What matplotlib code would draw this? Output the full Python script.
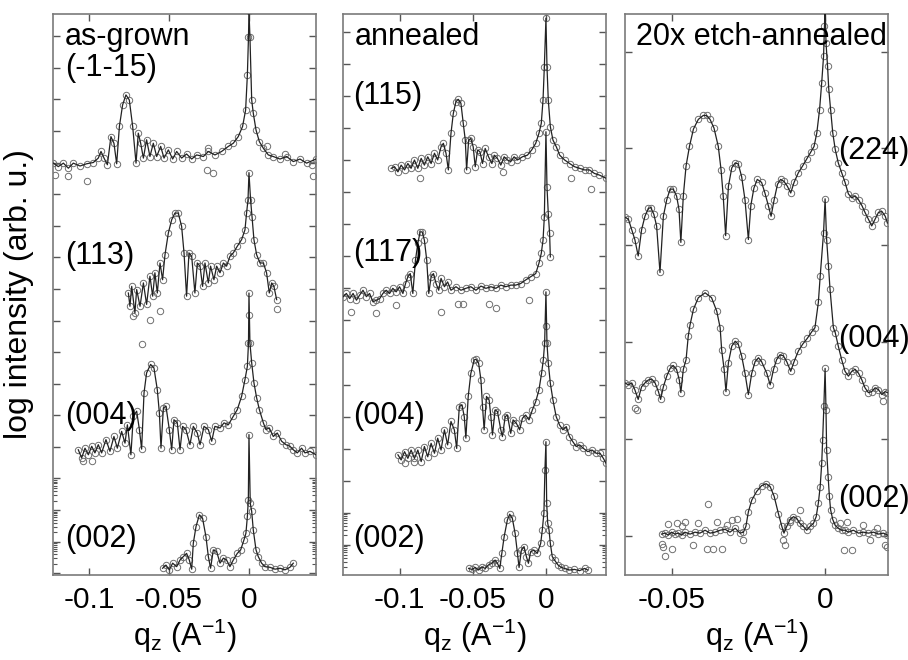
import matplotlib
matplotlib.use("Agg")
import matplotlib.pyplot as plt
import numpy as np

plt.rcParams['font.family'] = ['Liberation Sans', 'DejaVu Sans']
plt.rcParams['mathtext.fontset'] = 'custom'
plt.rcParams['mathtext.rm'] = 'Liberation Sans'
plt.rcParams['mathtext.it'] = 'Liberation Sans:italic'
plt.rcParams['axes.unicode_minus'] = False

# ---------------- data: panel 1 (as-grown) ----------------
a1_q = [-0.1223,-0.1192,-0.1160,-0.1129,-0.1098,-0.1056,-0.1015,-0.0973,-0.0942,-0.0925,-0.0906,-0.0885,-0.0863,-0.0844,-0.0827,-0.0810,-0.0790,-0.0769,-0.0748,-0.0727,-0.0706,-0.0692,-0.0677,-0.0660,-0.0640,-0.0619,-0.0598,-0.0577,-0.0552,-0.0531,-0.0504,-0.0477,-0.0452,-0.0421,-0.0390,-0.0358,-0.0327,-0.0285,-0.0254,-0.0213,-0.0171,-0.0129,-0.0098,-0.0067,-0.0040,-0.0021,-0.0010,-0.0003,0.0,0.0006,0.0017,0.0027,0.0044,0.0065,0.0090,0.0121,0.0152,0.0194,0.0235,0.0277,0.0319,0.0360,0.0419]
a1_y = [12.98,12.87,12.98,12.82,12.98,12.89,12.96,13.00,13.14,13.35,13.14,12.93,13.82,13.61,12.96,14.14,14.82,15.14,14.98,14.14,12.98,13.93,13.61,13.14,13.72,13.19,13.61,13.19,13.51,13.14,13.40,13.11,13.35,13.14,13.27,13.11,13.24,13.19,13.35,13.24,13.35,13.51,13.61,13.82,14.14,14.66,15.77,16.98,17.80,16.98,14.98,14.56,14.03,13.66,13.45,13.24,13.19,13.11,13.19,13.03,13.11,12.98,13.11]

a2_q = [-0.0754,-0.0744,-0.0733,-0.0713,-0.0702,-0.0681,-0.0660,-0.0640,-0.0619,-0.0602,-0.0588,-0.0573,-0.0556,-0.0540,-0.0525,-0.0504,-0.0483,-0.0463,-0.0442,-0.0421,-0.0406,-0.0390,-0.0375,-0.0358,-0.0338,-0.0323,-0.0306,-0.0290,-0.0275,-0.0254,-0.0240,-0.0219,-0.0202,-0.0181,-0.0160,-0.0140,-0.0119,-0.0098,-0.0073,-0.0046,-0.0025,-0.0015,-0.0006,0.0,0.0010,0.0019,0.0031,0.0048,0.0069,0.0090,0.0110,0.0127,0.0142,0.0156,0.0173]
a2_y = [8.87,8.45,9.08,8.24,8.98,8.45,9.19,8.51,9.40,8.77,9.51,8.87,9.82,9.29,10.08,10.77,11.19,11.40,11.40,10.98,10.14,8.77,10.14,10.03,8.87,9.82,9.72,9.08,9.82,9.19,9.72,9.29,9.72,9.51,9.82,9.72,10.03,10.14,10.35,10.56,10.87,11.40,11.82,12.68,11.82,11.29,10.56,10.08,9.82,9.82,9.51,8.87,9.19,9.08,8.66]

a3_q = [-0.1067,-0.1046,-0.1025,-0.1004,-0.0983,-0.0963,-0.0942,-0.0921,-0.0894,-0.0869,-0.0844,-0.0823,-0.0796,-0.0775,-0.0760,-0.0738,-0.0723,-0.0702,-0.0685,-0.0671,-0.0656,-0.0640,-0.0615,-0.0594,-0.0573,-0.0560,-0.0550,-0.0535,-0.0519,-0.0498,-0.0483,-0.0469,-0.0448,-0.0431,-0.0415,-0.0394,-0.0369,-0.0348,-0.0323,-0.0306,-0.0281,-0.0254,-0.0233,-0.0213,-0.0181,-0.0156,-0.0129,-0.0098,-0.0073,-0.0046,-0.0025,-0.0010,-0.0003,0.0,0.0006,0.0017,0.0031,0.0048,0.0065,0.0090,0.0106,0.0127,0.0152,0.0177,0.0204,0.0231,0.0256,0.0277,0.0302,0.0329,0.0350,0.0381,0.0419]
a3_y = [3.91,3.65,3.96,3.75,4.02,3.81,4.07,3.81,4.23,3.86,4.33,3.96,4.49,4.12,4.70,3.75,4.97,5.13,4.55,3.93,5.71,6.34,6.61,6.50,5.81,5.07,3.96,5.23,5.29,4.55,3.91,4.86,4.76,3.91,4.65,4.55,4.07,4.65,4.44,4.07,4.65,4.55,4.18,4.65,4.60,4.76,4.70,4.97,5.18,5.60,6.13,6.55,7.29,8.87,7.29,6.66,6.03,5.55,5.18,4.76,4.55,4.60,4.33,4.44,4.18,4.07,4.02,3.91,3.81,3.96,3.81,3.86,3.75]

a4_q = [-0.0540,-0.0519,-0.0498,-0.0477,-0.0452,-0.0431,-0.0410,-0.0390,-0.0373,-0.0358,-0.0348,-0.0331,-0.0310,-0.0290,-0.0269,-0.0254,-0.0240,-0.0223,-0.0202,-0.0181,-0.0160,-0.0140,-0.0119,-0.0098,-0.0073,-0.0052,-0.0031,-0.0019,-0.0010,-0.0004,0.0,0.0008,0.0017,0.0027,0.0044,0.0058,0.0079,0.0100,0.0131,0.0163,0.0194,0.0225,0.0256,0.0277]
a4_y = [0.16,0.26,0.11,0.32,0.21,0.42,0.53,0.63,0.42,0.13,0.95,1.48,1.85,1.74,1.16,0.53,0.16,0.74,0.69,0.32,0.48,0.42,0.21,0.42,0.63,0.74,1.06,1.27,1.80,2.33,4.39,2.22,1.96,1.37,0.74,0.53,0.32,0.21,0.19,0.13,0.16,0.11,0.19,0.32]

p1_extra_q = [-0.1215,-0.1129,-0.1010,-0.0265,-0.0223,-0.0254,0.0110,0.0225,0.0392,0.0402,-0.0723,-0.0617,-0.0556,0.0175,-0.0671,-0.1035,-0.0983,0.0003]
p1_extra_y = [12.61,12.56,12.43,12.75,12.68,13.45,13.51,13.27,12.93,12.56,8.14,8.01,8.29,8.35,7.27,3.54,3.54,8.19]

# ---------------- data: panel 2 (annealed) ----------------
b1_q = [-0.1059,-0.1036,-0.1013,-0.0991,-0.0968,-0.0945,-0.0923,-0.0900,-0.0877,-0.0854,-0.0832,-0.0809,-0.0786,-0.0763,-0.0741,-0.0718,-0.0702,-0.0684,-0.0668,-0.0650,-0.0634,-0.0616,-0.0600,-0.0582,-0.0566,-0.0552,-0.0543,-0.0529,-0.0514,-0.0498,-0.0484,-0.0468,-0.0452,-0.0434,-0.0416,-0.0393,-0.0370,-0.0354,-0.0332,-0.0309,-0.0286,-0.0264,-0.0241,-0.0218,-0.0195,-0.0161,-0.0127,-0.0098,-0.0070,-0.0048,-0.0032,-0.0020,-0.0011,0.0,0.0007,0.0016,0.0030,0.0048,0.0071,0.0094,0.0128,0.0162,0.0196,0.0230,0.0264,0.0298,0.0332,0.0366,0.0412]
b1_y = [11.74,11.79,11.63,11.84,11.69,11.89,11.74,12.00,11.74,12.05,11.84,12.10,11.89,12.21,12.00,12.41,12.52,12.21,11.69,12.83,13.45,13.82,13.89,13.77,13.14,12.62,11.69,12.62,12.67,12.41,11.79,12.31,12.26,11.89,12.36,12.10,11.89,12.15,12.05,11.84,12.10,12.00,11.95,12.10,12.00,12.10,12.15,12.31,12.52,12.83,13.14,13.87,14.91,16.42,14.91,13.87,13.04,12.62,12.41,12.15,12.00,11.89,11.79,11.74,11.69,11.69,11.58,11.53,11.43]

b2_q = [-0.1388,-0.1366,-0.1343,-0.1320,-0.1297,-0.1275,-0.1252,-0.1229,-0.1207,-0.1184,-0.1161,-0.1138,-0.1116,-0.1093,-0.1070,-0.1048,-0.1025,-0.1002,-0.0979,-0.0961,-0.0945,-0.0929,-0.0911,-0.0893,-0.0877,-0.0861,-0.0847,-0.0832,-0.0816,-0.0802,-0.0786,-0.0770,-0.0752,-0.0734,-0.0718,-0.0695,-0.0673,-0.0650,-0.0616,-0.0582,-0.0548,-0.0514,-0.0479,-0.0445,-0.0411,-0.0377,-0.0343,-0.0309,-0.0275,-0.0241,-0.0207,-0.0173,-0.0139,-0.0105,-0.0070,-0.0048,-0.0032,-0.0020,-0.0011,0.0,0.0007,0.0016,0.0025,0.0030]
b2_y = [7.74,7.84,7.68,7.84,7.63,7.79,7.94,7.74,7.84,7.58,7.63,7.68,7.84,7.94,7.84,8.00,7.89,8.05,7.84,8.15,8.36,8.46,7.84,8.88,9.40,9.76,9.76,9.50,8.88,7.84,8.36,8.46,8.15,7.94,8.31,8.05,8.20,7.94,8.05,7.94,8.00,8.05,7.94,8.07,8.00,8.05,8.00,8.10,8.05,8.10,8.10,8.15,8.26,8.36,8.46,8.78,9.09,9.50,10.23,12.88,11.17,10.33,9.71,8.98]

b3_q = [-0.1013,-0.0991,-0.0968,-0.0945,-0.0923,-0.0900,-0.0877,-0.0854,-0.0832,-0.0809,-0.0786,-0.0763,-0.0741,-0.0718,-0.0695,-0.0673,-0.0650,-0.0627,-0.0611,-0.0593,-0.0575,-0.0559,-0.0548,-0.0532,-0.0514,-0.0491,-0.0479,-0.0461,-0.0445,-0.0434,-0.0423,-0.0407,-0.0389,-0.0377,-0.0366,-0.0348,-0.0332,-0.0309,-0.0298,-0.0279,-0.0264,-0.0241,-0.0225,-0.0202,-0.0180,-0.0161,-0.0139,-0.0116,-0.0093,-0.0070,-0.0048,-0.0030,-0.0018,-0.0009,0.0,0.0007,0.0016,0.0030,0.0048,0.0070,0.0093,0.0116,0.0139,0.0161,0.0184,0.0207,0.0230,0.0257,0.0286,0.0316,0.0343,0.0370,0.0393,0.0411]
b3_y = [2.81,2.65,2.91,2.70,2.96,2.70,2.96,2.60,3.07,2.75,3.17,2.86,3.33,2.96,3.59,3.12,3.85,3.59,3.01,4.31,4.37,4.00,3.33,4.63,5.35,5.77,5.79,5.67,5.15,4.31,3.59,4.63,4.52,4.00,3.43,4.21,4.16,3.59,3.38,4.00,4.05,3.48,3.90,3.79,3.59,3.95,4.05,3.90,4.21,4.47,4.83,5.35,5.77,6.29,7.89,6.29,5.67,5.04,4.52,4.00,3.74,3.59,3.69,3.38,3.22,3.07,3.12,3.01,2.91,2.96,2.86,2.86,2.70,2.55]

b4_q = [-0.0529,-0.0507,-0.0484,-0.0461,-0.0439,-0.0416,-0.0393,-0.0370,-0.0348,-0.0332,-0.0316,-0.0302,-0.0286,-0.0264,-0.0248,-0.0230,-0.0211,-0.0195,-0.0184,-0.0168,-0.0150,-0.0134,-0.0120,-0.0105,-0.0082,-0.0059,-0.0036,-0.0025,-0.0014,-0.0007,0.0,0.0005,0.0012,0.0021,0.0030,0.0043,0.0059,0.0082,0.0105,0.0127,0.0161,0.0195,0.0230,0.0264,0.0286]
b4_y = [-0.73,-0.76,-0.70,-0.78,-0.68,-0.73,-0.62,-0.57,-0.47,-0.57,-0.73,-0.26,0.26,0.78,0.96,0.83,0.36,-0.26,-0.70,-0.16,-0.05,-0.36,-0.57,-0.21,-0.16,-0.26,0.05,0.47,0.99,2.34,3.22,1.30,0.68,0.47,0.05,-0.36,-0.47,-0.62,-0.70,-0.73,-0.78,-0.76,-0.80,-0.73,-0.78]

p2_extra_q = [0.0172,0.0311,-0.0297,-0.0859,-0.1331,-0.1161,-0.1025,-0.0718,-0.0605,-0.0566,-0.0389,-0.0343,-0.0116,0.0,-0.0968,-0.0900]
p2_extra_y = [11.43,11.11,11.63,11.45,7.27,7.22,7.48,7.27,7.51,7.51,7.51,7.38,7.63,6.82,2.55,2.60]

# ---------------- data: panel 3 (20x etch-annealed) ----------------
c1_q = [-0.0652,-0.0641,-0.0630,-0.0620,-0.0609,-0.0598,-0.0587,-0.0576,-0.0568,-0.0558,-0.0549,-0.0538,-0.0527,-0.0516,-0.0505,-0.0495,-0.0484,-0.0476,-0.0470,-0.0462,-0.0453,-0.0442,-0.0429,-0.0413,-0.0397,-0.0386,-0.0375,-0.0362,-0.0348,-0.0339,-0.0332,-0.0324,-0.0315,-0.0304,-0.0293,-0.0283,-0.0272,-0.0261,-0.0250,-0.0242,-0.0232,-0.0221,-0.0207,-0.0196,-0.0185,-0.0176,-0.0166,-0.0155,-0.0145,-0.0134,-0.0123,-0.0112,-0.0101,-0.0087,-0.0073,-0.0060,-0.0047,-0.0036,-0.0027,-0.0018,-0.0011,-0.0005,-0.0002,0.0,0.0003,0.0008,0.0012,0.0018,0.0025,0.0033,0.0043,0.0054,0.0065,0.0076,0.0087,0.0098,0.0109,0.0120,0.0130,0.0141,0.0152,0.0163,0.0174,0.0185,0.0196,0.0203]
c1_y = [3.29,3.27,3.16,3.06,2.89,3.16,3.30,3.38,3.39,3.32,3.20,2.72,3.30,3.47,3.58,3.58,3.51,3.37,3.03,3.51,3.82,4.02,4.20,4.30,4.34,4.34,4.30,4.21,4.02,3.78,3.51,3.10,3.61,3.80,3.85,3.84,3.71,3.47,3.06,3.41,3.59,3.68,3.65,3.54,3.41,3.30,3.47,3.63,3.68,3.66,3.61,3.54,3.65,3.75,3.82,3.89,3.96,4.02,4.16,4.40,4.68,4.95,5.26,5.50,5.09,4.85,4.61,4.40,4.16,3.99,3.85,3.75,3.65,3.53,3.49,3.51,3.47,3.41,3.34,3.27,3.20,3.27,3.34,3.35,3.30,3.23]

c2_q = [-0.0652,-0.0641,-0.0630,-0.0620,-0.0609,-0.0598,-0.0587,-0.0576,-0.0565,-0.0554,-0.0543,-0.0536,-0.0527,-0.0516,-0.0505,-0.0495,-0.0484,-0.0475,-0.0470,-0.0462,-0.0453,-0.0446,-0.0440,-0.0429,-0.0413,-0.0391,-0.0370,-0.0353,-0.0342,-0.0337,-0.0329,-0.0323,-0.0315,-0.0304,-0.0293,-0.0283,-0.0272,-0.0261,-0.0250,-0.0239,-0.0228,-0.0217,-0.0207,-0.0190,-0.0179,-0.0168,-0.0158,-0.0147,-0.0136,-0.0125,-0.0112,-0.0101,-0.0087,-0.0073,-0.0058,-0.0043,-0.0033,-0.0022,-0.0016,-0.0005,0.0,0.0005,0.0011,0.0016,0.0027,0.0033,0.0043,0.0054,0.0065,0.0076,0.0087,0.0098,0.0109,0.0120,0.0130,0.0141,0.0152,0.0163,0.0174,0.0185,0.0196,0.0203]
c2_y = [1.58,1.56,1.58,1.51,1.41,1.54,1.58,1.61,1.62,1.58,1.49,1.41,1.54,1.65,1.73,1.76,1.72,1.61,1.48,1.72,1.82,2.06,2.18,2.34,2.46,2.51,2.46,2.32,2.15,1.92,1.72,1.49,1.79,1.96,2.01,1.98,1.86,1.68,1.46,1.68,1.80,1.84,1.80,1.68,1.56,1.72,1.82,1.87,1.86,1.80,1.70,1.80,1.91,1.98,2.04,2.11,2.15,2.41,2.68,3.13,3.48,3.06,2.79,2.55,2.15,2.10,1.96,1.82,1.70,1.65,1.70,1.72,1.68,1.61,1.53,1.48,1.49,1.53,1.51,1.46,1.49,1.48]

c3_q = [-0.0533,-0.0522,-0.0511,-0.0500,-0.0489,-0.0478,-0.0467,-0.0457,-0.0440,-0.0424,-0.0408,-0.0391,-0.0375,-0.0359,-0.0342,-0.0326,-0.0310,-0.0293,-0.0277,-0.0266,-0.0258,-0.0250,-0.0239,-0.0223,-0.0207,-0.0192,-0.0179,-0.0166,-0.0152,-0.0141,-0.0134,-0.0125,-0.0114,-0.0103,-0.0092,-0.0082,-0.0071,-0.0060,-0.0049,-0.0038,-0.0029,-0.0022,-0.0016,-0.0011,-0.0008,-0.0004,0.0,0.0003,0.0005,0.0010,0.0014,0.0018,0.0025,0.0033,0.0043,0.0054,0.0065,0.0076,0.0092,0.0109,0.0125,0.0141,0.0158,0.0174,0.0190,0.0203]
c3_y = [0.02,0.03,0.01,0.04,0.02,0.03,0.01,0.04,0.02,0.04,0.03,0.06,0.03,0.04,0.06,0.07,0.04,0.08,0.03,0.04,0.10,0.25,0.37,0.46,0.52,0.54,0.51,0.41,0.23,0.10,0.03,0.10,0.17,0.20,0.18,0.13,0.10,0.06,0.10,0.13,0.20,0.34,0.51,0.75,0.99,1.34,1.73,1.30,0.89,0.61,0.41,0.27,0.17,0.11,0.08,0.06,0.06,0.04,0.06,0.03,0.04,0.03,0.04,0.02,0.03,0.01]

p3_extra_q = [-0.0533,-0.0527,-0.0522,-0.0511,-0.0500,-0.0484,-0.0467,-0.0457,-0.0429,-0.0413,-0.0386,-0.0380,-0.0364,-0.0353,-0.0337,-0.0321,-0.0304,-0.0288,-0.0266,-0.0138,-0.0130,-0.0114,-0.0082,0.0049,0.0060,0.0087,0.0073,0.0125,0.0147,0.0168,0.0196,0.0203,-0.0620,-0.0614,0.0190]
p3_extra_y = [-0.08,-0.11,-0.21,0.12,-0.13,0.13,0.10,0.15,-0.09,0.13,-0.13,0.33,-0.13,0.15,-0.13,0.11,0.17,0.18,-0.04,-0.04,-0.09,0.15,0.27,0.13,-0.14,-0.14,0.14,0.11,-0.04,0.08,-0.09,-0.11,1.32,1.30,1.39]

# ---------------- labels ----------------
titles = ["as-grown", "annealed", "20x etch-annealed"]
p1_reflections = ["(-1-15)", "(113)", "(004)", "(002)"]
p2_reflections = ["(115)", "(117)", "(004)", "(002)"]
p3_reflections = ["(224)", "(004)", "(002)"]
p12_xticks = [-0.1, -0.05, 0]
p12_xticklabels = ["-0.1", "-0.05", "0"]
p3_xticks = [-0.05, 0]
p3_xticklabels = ["-0.05", "0"]
xlabel = r"q$_{\mathrm{z}}$ (A$^{\mathrm{-1}}$)"
ylabel = "log intensity (arb. u.)"

# ---------------- figure ----------------
W, H = 908, 660
fig = plt.figure(figsize=(W / 100, H / 100), dpi=100)

def ax_at(left_px):
    return fig.add_axes([left_px / W, 85 / H, 263 / W, 561 / H])

panels = [
    dict(left=53, curves=[(a1_q, a1_y), (a2_q, a2_y), (a3_q, a3_y), (a4_q, a4_y)],
         extra=(p1_extra_q, p1_extra_y), xlim=(-0.1225, 0.0419), ylim=(-0.054, 17.70),
         nmaj=18, minor_dec=[1, 2, 3], xt=p12_xticks, xtl=p12_xticklabels,
         title=titles[0], tx=0.046,
         refs=p1_reflections, rpos=[(0.046, 0.889), (0.046, 0.554), (0.046, 0.269), (0.046, 0.050)]),
    dict(left=343, curves=[(b1_q, b1_y), (b2_q, b2_y), (b3_q, b3_y), (b4_q, b4_y)],
         extra=(p2_extra_q, p2_extra_y), xlim=(-0.1389, 0.0411), ylim=(-0.935, 16.55),
         nmaj=17, minor_dec=[0, 1], xt=p12_xticks, xtl=p12_xticklabels,
         title=titles[1], tx=0.046,
         refs=p2_reflections, rpos=[(0.038, 0.840), (0.038, 0.560), (0.038, 0.269), (0.038, 0.050)]),
    dict(left=625, curves=[(c1_q, c1_y), (c2_q, c2_y), (c3_q, c3_y)],
         extra=(p3_extra_q, p3_extra_y), xlim=(-0.0652, 0.0205), ylim=(-0.402, 5.387),
         nmaj=6, minor_dec=[], xt=p3_xticks, xtl=p3_xticklabels,
         title=titles[2], tx=0.042,
         refs=p3_reflections, rpos=[(0.810, 0.742), (0.810, 0.406), (0.810, 0.121)]),
]

spine_col = '#7a7a7a'
for i, p in enumerate(panels):
    ax = ax_at(p['left'])
    for q, y in p['curves']:
        ax.plot(q, y, linestyle='none', marker='o', ms=4.6, mfc='none',
                mec='#6e6e6e', mew=0.7, zorder=2)
    ax.plot(p['extra'][0], p['extra'][1], linestyle='none', marker='o', ms=4.6,
            mfc='none', mec='#6e6e6e', mew=0.7, zorder=2)
    for q, y in p['curves']:
        ax.plot(q, y, color='#222222', lw=0.9, zorder=3)
    ax.set_xlim(*p['xlim'])
    ax.set_ylim(*p['ylim'])
    ax.set_xticks(p['xt'])
    ax.set_xticklabels(p['xtl'])
    ax.set_yticks(np.arange(p['nmaj']))
    ax.set_yticklabels([])
    minors = [d - 1 + np.log10(k) for d in p['minor_dec'] for k in range(2, 10)]
    ax.set_yticks(minors, minor=True)
    ax.tick_params(axis='both', which='major', direction='in', length=5, width=1,
                   color='#555555', top=True, right=True, labelsize=21.5, pad=8)
    ax.tick_params(axis='y', which='minor', direction='in', length=3, width=0.8,
                   color='#555555', left=True, right=True)
    for s in ax.spines.values():
        s.set_color(spine_col)
        s.set_linewidth(1.2)
    ax.set_xlabel(xlabel, fontsize=22, labelpad=2)
    if i == 0:
        ax.set_ylabel(ylabel, fontsize=23, labelpad=6)
    ax.text(p['tx'], 0.945, p['title'], transform=ax.transAxes, fontsize=22,
            ha='left', va='baseline', zorder=5)
    for label, (fx, fy) in zip(p['refs'], p['rpos']):
        ax.text(fx, fy, label, transform=ax.transAxes, fontsize=22,
                ha='left', va='baseline', zorder=5)

fig.savefig('out.png', dpi=100)
